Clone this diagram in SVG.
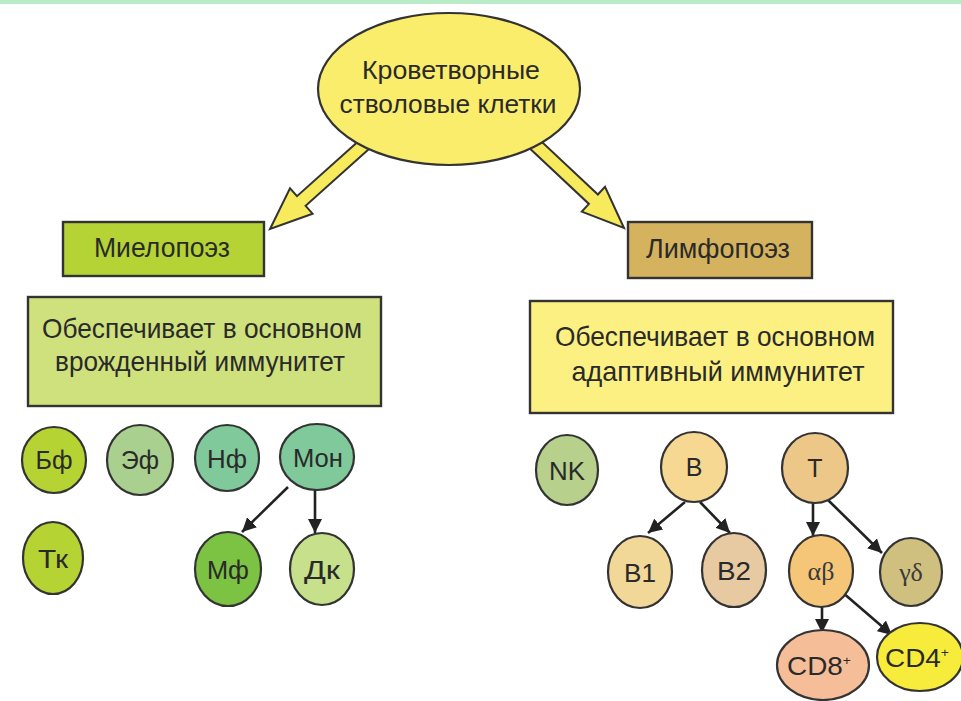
<svg xmlns="http://www.w3.org/2000/svg" width="961" height="701" viewBox="0 0 961 701">
<defs>
<style>
.t{font-family:"Liberation Sans",Arial,sans-serif;fill:#2a2a2a;text-anchor:middle}
.g{font-family:"Liberation Serif","Times New Roman",serif;fill:#3a3a3a;text-anchor:middle}
.n{stroke:#333;stroke-width:2.2}
.b{stroke:#333;stroke-width:2.4}
.c{stroke:#222;stroke-width:2.6;fill:none;marker-end:url(#ah)}
.big{fill:#f7ea5c;stroke:#333;stroke-width:2;stroke-linejoin:miter}
</style>
<marker id="ah" viewBox="0 0 10 10" refX="10" refY="5" markerWidth="14" markerHeight="14" markerUnits="userSpaceOnUse" orient="auto">
<path d="M0,0 L10,5 L0,10 Z" fill="#222"/>
</marker>
</defs>
<rect x="0" y="0" width="961" height="701" fill="#ffffff"/>
<rect x="0" y="0" width="961" height="4" fill="#b9ebc9"/>

<g id="connectors">
<polygon class="big" points="379.3,139.8 305.6,205.8 312.6,213.7 270,229 290,188.3 297,196.2 370.7,130.2"/>
<polygon class="big" points="520.5,139.7 588.9,203.9 581.8,211.6 624,228 605,186.8 597.9,194.5 529.5,130.3"/>
<line class="c" x1="288" y1="487" x2="242" y2="532"/>
<line class="c" x1="315" y1="490" x2="315" y2="533"/>
<line class="c" x1="685" y1="502" x2="648" y2="533"/>
<line class="c" x1="700" y1="502" x2="730" y2="533"/>
<line class="c" x1="813" y1="503" x2="813" y2="536"/>
<line class="c" x1="828" y1="500" x2="882" y2="553"/>
<line class="c" x1="822" y1="607" x2="822" y2="633"/>
<line class="c" x1="842" y1="592" x2="892" y2="635"/>
</g>

<g id="stem">
<ellipse class="n" cx="449" cy="89" rx="131" ry="76" fill="#faed6b"/>
<text class="t" x="451" y="79" font-size="25" textLength="178" lengthAdjust="spacingAndGlyphs">Кроветворные</text>
<text class="t" x="448" y="113" font-size="25" textLength="217" lengthAdjust="spacingAndGlyphs">стволовые клетки</text>
</g>

<g id="myelo">
<rect class="b" x="63" y="222" width="201" height="54" fill="#b5d334"/>
<text class="t" x="162" y="257" font-size="27" textLength="136" lengthAdjust="spacingAndGlyphs">Миелопоэз</text>
</g>
<g id="lympho">
<rect class="b" x="628" y="222" width="184" height="56" fill="#d5b35e"/>
<text class="t" x="718" y="258" font-size="27" textLength="144" lengthAdjust="spacingAndGlyphs">Лимфопоэз</text>
</g>

<g id="innate">
<rect class="b" x="28" y="297" width="353" height="109" fill="#cfe17c"/>
<text class="t" x="202" y="338" font-size="28" textLength="320" lengthAdjust="spacingAndGlyphs">Обеспечивает в основном</text>
<text class="t" x="200" y="371" font-size="28" textLength="290" lengthAdjust="spacingAndGlyphs">врожденный иммунитет</text>
</g>
<g id="adaptive">
<rect class="b" x="530" y="301" width="363" height="112" fill="#fbf081"/>
<text class="t" x="715" y="346" font-size="28" textLength="320" lengthAdjust="spacingAndGlyphs">Обеспечивает в основном</text>
<text class="t" x="718" y="381" font-size="28" textLength="293" lengthAdjust="spacingAndGlyphs">адаптивный иммунитет</text>
</g>

<g id="bf"><ellipse class="n" cx="54" cy="460" rx="32" ry="33" fill="#b6d334"/><text class="t" x="54" y="469" font-size="25" textLength="37" lengthAdjust="spacingAndGlyphs">Бф</text></g>
<g id="ef"><ellipse class="n" cx="140" cy="460" rx="33" ry="35" fill="#a9d08e"/><text class="t" x="140" y="469" font-size="25" textLength="38" lengthAdjust="spacingAndGlyphs">Эф</text></g>
<g id="nf"><ellipse class="n" cx="227" cy="458" rx="32" ry="33" fill="#80c99b"/><text class="t" x="227" y="468" font-size="25" textLength="40" lengthAdjust="spacingAndGlyphs">Нф</text></g>
<g id="mon"><ellipse class="n" cx="317" cy="457" rx="37" ry="33" fill="#80c99b"/><text class="t" x="318" y="467" font-size="25" textLength="50" lengthAdjust="spacingAndGlyphs">Мон</text></g>
<g id="tk"><ellipse class="n" cx="53" cy="558" rx="30" ry="36" fill="#b6d334"/><text class="t" x="53" y="568" font-size="25" textLength="30" lengthAdjust="spacingAndGlyphs">Тк</text></g>
<g id="mf"><ellipse class="n" cx="228" cy="569" rx="33" ry="37" fill="#7cc243"/><text class="t" x="228" y="579" font-size="25" textLength="42" lengthAdjust="spacingAndGlyphs">Мф</text></g>
<g id="dk"><ellipse class="n" cx="322" cy="569" rx="32" ry="36" fill="#c6e08b"/><text class="t" x="322" y="579" font-size="25" textLength="36" lengthAdjust="spacingAndGlyphs">Дк</text></g>

<g id="nk"><ellipse class="n" cx="567" cy="470" rx="31" ry="35" fill="#b7d08c"/><text class="t" x="567" y="480" font-size="25" textLength="36" lengthAdjust="spacingAndGlyphs">NK</text></g>
<g id="b"><ellipse class="n" cx="694" cy="467" rx="33" ry="35" fill="#f6d892"/><text class="t" x="694" y="476" font-size="25">B</text></g>
<g id="t"><ellipse class="n" cx="815" cy="468" rx="33" ry="35" fill="#ecc787"/><text class="t" x="815" y="477" font-size="25">T</text></g>
<g id="b1"><ellipse class="n" cx="640" cy="572" rx="32" ry="36" fill="#f2d898"/><text class="t" x="640" y="582" font-size="25" textLength="32" lengthAdjust="spacingAndGlyphs">B1</text></g>
<g id="b2"><ellipse class="n" cx="734" cy="570" rx="32" ry="37" fill="#e7caa2"/><text class="t" x="734" y="580" font-size="25" textLength="34" lengthAdjust="spacingAndGlyphs">B2</text></g>
<g id="ab"><ellipse class="n" cx="821" cy="571" rx="32" ry="36" fill="#f6c678"/><text class="g" x="821" y="580" font-size="26">αβ</text></g>
<g id="gd"><ellipse class="n" cx="911" cy="572" rx="31" ry="34" fill="#d0c07f"/><text class="g" x="911" y="581" font-size="26">γδ</text></g>
<g id="cd8"><ellipse class="n" cx="823" cy="665" rx="46" ry="35" fill="#f5be99"/><text class="t" x="819" y="675" font-size="26" textLength="64" lengthAdjust="spacingAndGlyphs">CD8<tspan font-size="13" dy="-10">+</tspan></text></g>
<g id="cd4"><ellipse class="n" cx="920" cy="657" rx="43" ry="34" fill="#f7ec3b"/><text class="t" x="917" y="667" font-size="26" textLength="64" lengthAdjust="spacingAndGlyphs">CD4<tspan font-size="13" dy="-10">+</tspan></text></g>
</svg>
